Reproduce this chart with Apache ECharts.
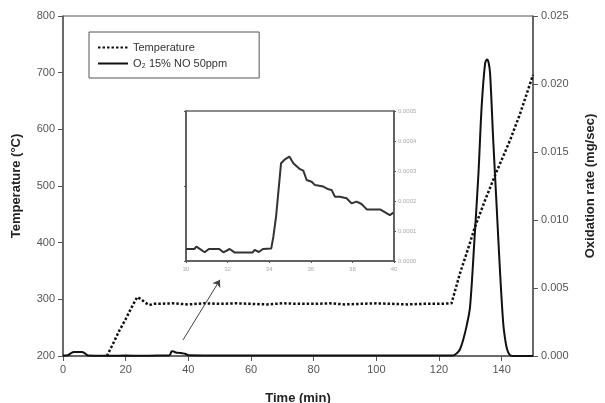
<!DOCTYPE html>
<html>
<head>
<meta charset="utf-8">
<script src="https://cdn.jsdelivr.net/npm/echarts@6/dist/echarts.min.js"></script>
<style>
  html, body { margin: 0; padding: 0; background: #fff; }
  #chart { width: 605px; height: 403px; }
</style>
</head>
<body>
<div id="chart"></div>
<script>
// temperature (°C) vs time (min)
var tempTime = [14, 16, 18, 20, 22, 23.7, 25, 26, 27.5, 29, 30, 35, 40, 45, 50, 55, 60, 65, 70, 75, 80, 85, 90, 95, 100, 105, 110, 115, 120, 124,
                126.7, 128.8, 131.5, 134.7, 138.2, 142.7, 145.9, 150];
var tempValues = [200, 222, 245, 265, 287, 304, 300, 295, 290, 292, 292, 293, 291, 293, 292, 293, 292, 291, 293, 292, 292, 293, 291, 292, 293, 292, 291, 292, 292, 293,
                  346, 381, 428, 475, 523, 581, 628, 696];

// oxidation rate (mg/sec) vs time (min)
var rateTime = [0, 1.5, 2.5, 3.5, 6, 7, 8, 10, 15, 20, 25, 30, 33.5, 34.2, 34.6, 35, 36, 37, 38, 39, 40, 45, 60, 80, 100, 120, 124.5,
                125.7, 126.7, 127.7, 128.8, 129.9, 131.3, 132.6, 133.6, 134.7, 135.3, 135.8, 136.3, 137.3, 138.4, 139.5, 140.5, 141.2, 141.8, 142.5, 143.5, 150];
var rateValues = [0.00003, 0.00005, 0.0002, 0.0003, 0.0003, 0.0002, 0.00003, 0.00002, 0.00002, 0.00003, 0.00002, 0.00003, 0.00003, 0.0001, 0.00033, 0.00035, 0.00026, 0.00023, 0.0002, 0.00017, 0.00005, 0.00004, 0.00004, 0.00004, 0.00004, 0.00004, 0.00004,
                  0.0002, 0.0005, 0.00118, 0.0022, 0.0036, 0.0085, 0.01346, 0.0183, 0.0215, 0.0218, 0.0216, 0.0208, 0.0159, 0.011, 0.0061, 0.0024, 0.0011, 0.00044, 0.0001, 0, 0];

// inset: zoom of 30-40 min
var insetTime = [30.0, 30.4, 30.5, 30.9, 31.1, 31.6, 31.8, 32.1, 32.35, 33.2, 33.3, 33.5, 33.7, 34.1, 34.2, 34.33, 34.45, 34.57, 34.76, 34.97,
                 35.16, 35.48, 35.64, 35.8, 36.04, 36.2, 36.6, 36.85, 37.0, 37.16, 37.4, 37.72, 37.96, 38.2, 38.44, 38.69, 39.33, 39.8, 39.97];
var insetValues = [0.00004, 0.00004, 0.000048, 0.000029, 0.00004, 0.00004, 0.000029, 0.00004, 0.000028, 0.000028, 0.000037, 0.00003, 0.00004, 0.000042, 0.000081, 0.000148, 0.000237, 0.000326, 0.000339, 0.000348,
                   0.000326, 0.000306, 0.000301, 0.00027, 0.000264, 0.000253, 0.000248, 0.000239, 0.000237, 0.000214, 0.000214, 0.000209, 0.000192, 0.000198, 0.00019, 0.000172, 0.000172, 0.000153, 0.000161];

// arrow pointing from the small bump to the inset
var arrowFrom = [38.3, 0.00118];
var arrowTo = [50.1, 0.0056];

var legendNames = ['Temperature', 'O\u2082 15% NO 50ppm'];

function zip(xs, ys) {
    return xs.map(function (x, i) { return [x, ys[i]]; });
}

var axisColor = '#555';
var labelStyle = { color: '#555', fontSize: 11, fontFamily: 'Liberation Sans, Arial, sans-serif' };
var nameStyle = { color: '#222', fontSize: 13, fontWeight: 'bold', fontFamily: 'Liberation Sans, Arial, sans-serif' };
var tinyLabel = { color: '#aaa', fontSize: 6, fontFamily: 'Liberation Sans, Arial, sans-serif' };

var chart = echarts.init(document.getElementById('chart'));
chart.setOption({
    animation: false,
    backgroundColor: '#fff',
    legend: {
        data: legendNames,
        orient: 'vertical',
        left: 89,
        top: 32,
        padding: [10, 32, 9, 8],
        itemWidth: 30,
        itemHeight: 12,
        itemGap: 5,
        borderColor: '#555',
        borderWidth: 1,
        itemStyle: { opacity: 0 },
        textStyle: { color: '#333', fontSize: 11, fontFamily: 'Liberation Sans, Arial, sans-serif' }
    },
    grid: [
        { left: 63, right: 72, top: 16, bottom: 47, outerBoundsMode: 'none', show: true, borderColor: axisColor, borderWidth: 1 },
        { left: 186, right: 211, top: 111, bottom: 142, outerBoundsMode: 'none', show: true, borderColor: '#666', borderWidth: 1.5, backgroundColor: '#fff' }
    ],
    xAxis: [
        {
            type: 'value', gridIndex: 0, min: 0, max: 150, interval: 20,
            name: 'Time (min)', nameLocation: 'middle', nameGap: 36, nameTextStyle: nameStyle,
            axisLine: { lineStyle: { color: axisColor, width: 1.5 } },
            axisTick: { length: 5, lineStyle: { color: axisColor } },
            axisLabel: Object.assign({ showMaxLabel: false, margin: 8 }, labelStyle),
            splitLine: { show: false }
        },
        {
            type: 'value', gridIndex: 1, min: 30, max: 40, interval: 2,
            axisLine: { lineStyle: { color: '#555', width: 1.5 } },
            axisTick: { length: 2, lineStyle: { color: '#555' } },
            axisLabel: Object.assign({ margin: 5 }, tinyLabel),
            splitLine: { show: false }
        }
    ],
    yAxis: [
        {
            type: 'value', gridIndex: 0, min: 200, max: 800, interval: 100,
            name: 'Temperature (°C)', nameLocation: 'middle', nameGap: 40, nameTextStyle: nameStyle,
            axisLine: { show: true, lineStyle: { color: axisColor, width: 1.5 } },
            axisTick: { show: true, length: 5, lineStyle: { color: axisColor } },
            axisLabel: Object.assign({ margin: 8 }, labelStyle),
            splitLine: { show: false }
        },
        {
            type: 'value', gridIndex: 0, position: 'right', min: 0, max: 0.025, interval: 0.005,
            name: 'Oxidation rate (mg/sec)', nameLocation: 'middle', nameGap: 51, nameTextStyle: nameStyle,
            axisLine: { show: true, lineStyle: { color: axisColor, width: 1.5 } },
            axisTick: { show: true, length: 5, lineStyle: { color: axisColor } },
            axisLabel: Object.assign({ margin: 8, formatter: function (v) { return v.toFixed(3); } }, labelStyle),
            splitLine: { show: false }
        },
        {
            type: 'value', gridIndex: 1, min: 0, max: 2, interval: 1,
            axisLine: { show: true, lineStyle: { color: '#555', width: 1.5 } },
            axisTick: { show: true, length: 2, lineStyle: { color: '#555' } },
            axisLabel: { show: false },
            splitLine: { show: false }
        },
        {
            type: 'value', gridIndex: 1, position: 'right', min: 0, max: 0.0005, interval: 0.0001,
            axisLine: { show: true, lineStyle: { color: '#555', width: 1.5 } },
            axisTick: { show: true, length: 2, lineStyle: { color: '#555' } },
            axisLabel: Object.assign({ margin: 4, formatter: function (v) { return v.toFixed(4); } }, tinyLabel),
            splitLine: { show: false }
        }
    ],
    series: [
        {
            name: legendNames[0],
            type: 'line',
            xAxisIndex: 0, yAxisIndex: 0,
            data: zip(tempTime, tempValues),
            symbol: 'none',
            color: '#111',
            lineStyle: { color: '#111', width: 2.5, type: [2.5, 2] },
            z: 3
        },
        {
            name: legendNames[1],
            type: 'line',
            xAxisIndex: 0, yAxisIndex: 1,
            data: zip(rateTime, rateValues),
            symbol: 'none',
            smooth: 0.3,
            color: '#111',
            lineStyle: { color: '#111', width: 2 },
            z: 3,
            markLine: {
                silent: true,
                symbol: ['none', 'arrow'],
                symbolSize: 7,
                label: { show: false },
                lineStyle: { color: '#444', width: 1, type: 'solid' },
                data: [[{ coord: arrowFrom }, { coord: arrowTo }]]
            }
        },
        {
            name: 'inset',
            type: 'line',
            xAxisIndex: 1, yAxisIndex: 3,
            data: zip(insetTime, insetValues),
            symbol: 'none',
            lineStyle: { color: '#333', width: 2 },
            z: 5
        }
    ]
});
</script>
</body>
</html>
